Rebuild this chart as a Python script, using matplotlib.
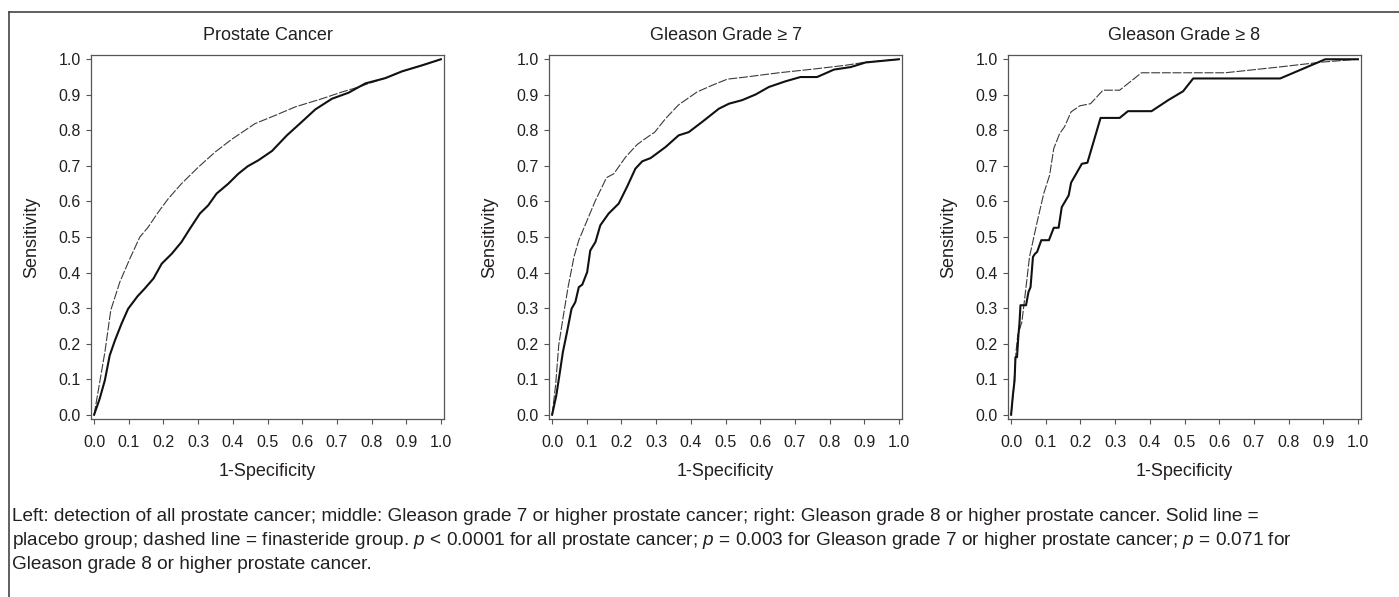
import matplotlib
matplotlib.use("Agg")
import matplotlib.pyplot as plt
from matplotlib import font_manager
from matplotlib.lines import Line2D

# ROC curves (1-specificity, sensitivity)
titles = ["Prostate Cancer", "Gleason Grade \u2265 7", "Gleason Grade \u2265 8"]

pc_placebo_x = [0, 0.016, 0.031, 0.045, 0.060, 0.079, 0.098, 0.125, 0.146, 0.171, 0.195, 0.224,
                0.252, 0.276, 0.305, 0.329, 0.353, 0.387, 0.416, 0.443, 0.474, 0.513, 0.556,
                0.599, 0.638, 0.686, 0.734, 0.782, 0.840, 0.888, 0.946, 1.0]
pc_placebo_y = [0, 0.045, 0.097, 0.167, 0.209, 0.256, 0.298, 0.333, 0.355, 0.383, 0.425, 0.453,
                0.486, 0.523, 0.566, 0.589, 0.622, 0.650, 0.678, 0.699, 0.716, 0.742, 0.786,
                0.824, 0.859, 0.889, 0.906, 0.932, 0.947, 0.966, 0.983, 1.0]
pc_fin_x = [0, 0.031, 0.048, 0.074, 0.103, 0.132, 0.156, 0.185, 0.214, 0.252, 0.301, 0.349,
            0.397, 0.464, 0.522, 0.580, 0.657, 0.715, 0.763, 0.792, 0.840, 0.888, 0.946, 1.0]
pc_fin_y = [0, 0.176, 0.294, 0.373, 0.439, 0.500, 0.528, 0.570, 0.608, 0.650, 0.697, 0.739,
            0.775, 0.819, 0.842, 0.866, 0.889, 0.908, 0.922, 0.932, 0.947, 0.966, 0.983, 1.0]

g7_placebo_x = [0, 0.012, 0.021, 0.031, 0.043, 0.056, 0.067, 0.077, 0.087, 0.101, 0.110, 0.125,
                0.139, 0.163, 0.192, 0.216, 0.240, 0.260, 0.284, 0.327, 0.365, 0.394, 0.433,
                0.481, 0.510, 0.548, 0.587, 0.625, 0.673, 0.716, 0.764, 0.813, 0.861, 0.904, 1.0]
g7_placebo_y = [0, 0.054, 0.111, 0.176, 0.233, 0.298, 0.317, 0.359, 0.366, 0.401, 0.462, 0.486,
                0.533, 0.566, 0.594, 0.641, 0.692, 0.713, 0.722, 0.753, 0.786, 0.795, 0.824,
                0.861, 0.875, 0.885, 0.901, 0.922, 0.938, 0.950, 0.950, 0.971, 0.978, 0.991, 1.0]
g7_fin_x = [0, 0.010, 0.019, 0.031, 0.046, 0.063, 0.077, 0.101, 0.125, 0.157, 0.178, 0.212,
            0.245, 0.269, 0.296, 0.327, 0.365, 0.418, 0.462, 0.505, 0.558, 0.654, 0.750,
            0.846, 0.904, 1.0]
g7_fin_y = [0, 0.083, 0.195, 0.270, 0.359, 0.444, 0.491, 0.547, 0.603, 0.667, 0.678, 0.725,
            0.760, 0.777, 0.795, 0.833, 0.872, 0.908, 0.927, 0.944, 0.950, 0.962, 0.972,
            0.983, 0.992, 1.0]

g8_placebo_x = [0, 0.005, 0.010, 0.0125, 0.017, 0.021, 0.024, 0.027, 0.043, 0.050, 0.056, 0.063,
                0.069, 0.075, 0.087, 0.109, 0.123, 0.137, 0.146, 0.166, 0.173, 0.204, 0.220,
                0.239, 0.258, 0.313, 0.337, 0.405, 0.453, 0.496, 0.525, 0.776, 0.906, 1.0]
g8_placebo_y = [0, 0.054, 0.097, 0.162, 0.162, 0.223, 0.256, 0.308, 0.308, 0.345, 0.359, 0.444,
                0.453, 0.458, 0.491, 0.491, 0.526, 0.526, 0.584, 0.617, 0.653, 0.706, 0.709,
                0.772, 0.835, 0.835, 0.854, 0.854, 0.885, 0.910, 0.946, 0.946, 1.0, 1.0]
g8_fin_x = [0, 0.008, 0.014, 0.019, 0.031, 0.039, 0.053, 0.075, 0.094, 0.111, 0.123, 0.140,
            0.154, 0.173, 0.198, 0.229, 0.265, 0.313, 0.376, 0.617, 0.771, 0.896, 1.0]
g8_fin_y = [0, 0.083, 0.176, 0.223, 0.261, 0.326, 0.444, 0.542, 0.622, 0.674, 0.749, 0.791,
            0.810, 0.852, 0.869, 0.875, 0.913, 0.913, 0.962, 0.962, 0.978, 0.992, 1.0]

placebo = [(pc_placebo_x, pc_placebo_y), (g7_placebo_x, g7_placebo_y), (g8_placebo_x, g8_placebo_y)]
finasteride = [(pc_fin_x, pc_fin_y), (g7_fin_x, g7_fin_y), (g8_fin_x, g8_fin_y)]

ticks = [i / 10 for i in range(11)]
tick_labels = ["%.1f" % t for t in ticks]

caption = ("Left: detection of all prostate cancer; middle: Gleason grade 7 or higher prostate cancer; "
           "right: Gleason grade 8 or higher prostate cancer. Solid line =\n"
           "placebo group; dashed line = finasteride group. $p$ < 0.0001 for all prostate cancer; "
           "$p$ = 0.003 for Gleason grade 7 or higher prostate cancer; $p$ = 0.071 for\n"
           "Gleason grade 8 or higher prostate cancer.")

installed = {f.name for f in font_manager.fontManager.ttflist}
narrow = "Liberation Sans Narrow" if "Liberation Sans Narrow" in installed else "Liberation Sans"

plt.rcParams["font.family"] = ["Liberation Sans", "DejaVu Sans"]
plt.rcParams["mathtext.fontset"] = "custom"
plt.rcParams["mathtext.it"] = narrow + ":italic"
plt.rcParams["mathtext.rm"] = narrow

TXT = "#231f20"

fig = plt.figure(figsize=(13.99, 5.97), dpi=100)
lefts = [91, 549, 1008]
W, H = 1399.0, 597.0

for i, left in enumerate(lefts):
    ax = fig.add_axes([left / W, 1 - 419 / H, 353 / W, 364 / H])
    px, py = placebo[i]
    fx, fy = finasteride[i]
    ax.plot(fx, fy, color="#3a3a3a", lw=0.8, dashes=(8, 1.6))
    ax.plot(px, py, color="#111111", lw=1.5, solid_joinstyle="round")
    ax.set_xlim(-0.009, 1.009)
    ax.set_ylim(-0.012, 1.012)
    ax.set_xticks(ticks)
    ax.set_xticklabels(tick_labels)
    ax.set_yticks(ticks)
    ax.set_yticklabels(tick_labels)
    ax.tick_params(direction="out", length=3.5, width=0.8, color="#555555",
                   labelsize=11.5, labelcolor=TXT)
    ax.tick_params(axis="x", pad=8)
    ax.tick_params(axis="y", pad=4)
    for s in ax.spines.values():
        s.set_color("#555555")
        s.set_linewidth(0.9)
    ax.set_title(titles[i], fontsize=13, color=TXT, pad=11)
    ax.set_xlabel("1-Specificity", fontsize=13, color=TXT)
    ax.xaxis.set_label_coords(0.5, -0.12)
    ax.set_ylabel("Sensitivity", fontsize=13, color=TXT, va="center")
    ax.yaxis.set_label_coords(-0.168, 0.5)

fig.text(12 / W, 1 - 508 / H, caption, fontsize=13.7, family=narrow, color=TXT,
         va="top", ha="left", linespacing=1.36)

# outer frame
fig.add_artist(Line2D([9 / W, 9 / W], [0, 1 - 12 / H], color="#444444", lw=1.2))
fig.add_artist(Line2D([9 / W, 1], [1 - 12 / H, 1 - 12 / H], color="#444444", lw=1.2))

fig.savefig("out.png", dpi=100, facecolor="white")
